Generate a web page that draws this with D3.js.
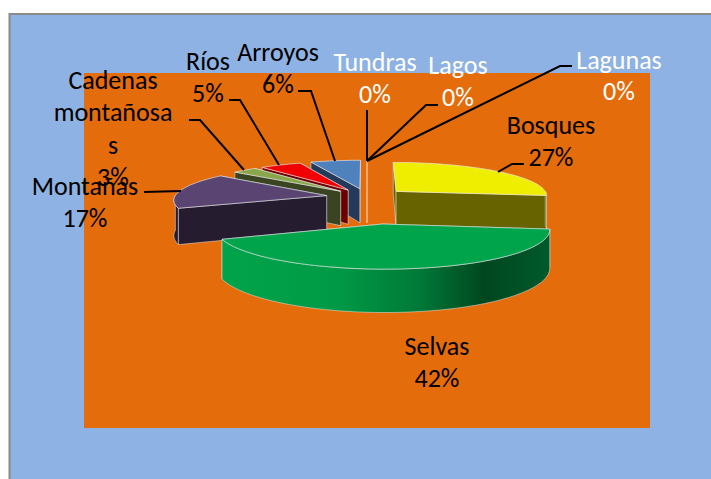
<!DOCTYPE html>
<html><head><meta charset="utf-8">
<script src="https://cdn.jsdelivr.net/npm/d3@7"></script>
<style>html,body{margin:0;padding:0;background:#fff}svg{display:block}text{font-family:Carlito,Lato,"Open Sans",sans-serif}</style>
</head><body><svg id="c" width="711" height="479"></svg>
<script>
// ---- data ----
const categories = ["Bosques","Selvas","Montañas","Cadenas montañosas","Ríos","Arroyos","Tundras","Lagos","Lagunas"];
const values = [27,42,17,3,5,6,0,0,0];
// ---- styles / layout ----
const topColors  = ["#f0ee00","#00a44a","#5a4572","#8aa64a","#f00000","#4f81bd","#f5a66b","#f5a66b","#f5a66b"];
const sideColors = ["#676400","url(#selvasWall)","#251c30","#3a4420","#6d0000","#243a5a","#f5a66b","#f5a66b","#f5a66b"];
const explode    = [.26,.75,.27,.25,.25,.26,.25,.25,.25];
const labelLines = [["Bosques"],["Selvas"],["Montañas"],["Cadenas","montañosa","s"],["Ríos"],["Arroyos"],["Tundras"],["Lagos"],["Lagunas"]];
const labelPos = [[551,134,32],[437,355,32],[85,195,32],[113,89,32.3],[208,70,32],[278,61,32],[375,71,32],[458,74,32],[619,69,31]];
const labelFill = ["#000","#000","#000","#000","#000","#000","#fff","#fff","#fff"];
const leaderPaths = [
 [[524,164],[512,164],[498,172]],
 null,
 [[144,192],[181,191]],
 [[189,120],[200,120],[244,170]],
 [[229,100],[240,100],[279,165]],
 [[298,91],[311,91],[335,161]],
 [[367,110],[367,161]],
 [[438,105],[426,105],[367,161]],
 [[572,66],[560,66],[367,161]]
];
const P = {cx:367, yh:-103, A:300, d:9, Bx:152, h:35};

const svg = d3.select("#c");
const defs = svg.append("defs");
const g = defs.append("linearGradient").attr("id","selvasWall").attr("gradientUnits","userSpaceOnUse")
  .attr("x1",220).attr("x2",550).attr("y1",0).attr("y2",0);
[[0,"#00a44a"],[.35,"#009a46"],[.6,"#007a38"],[.8,"#00471f"],[1,"#005a2c"]]
  .forEach(([o,c])=>g.append("stop").attr("offset",o).attr("stop-color",c));

// panel + plot area
svg.append("rect").attr("x",9.5).attr("y",14).attr("width",710).attr("height",470)
   .attr("fill","#8db2e3").attr("stroke","#8a8a8a").attr("stroke-width",2);
svg.append("rect").attr("x",84).attr("y",73).attr("width",566).attr("height",355).attr("fill","#e46c0a");

// projection of pie-space to the page
function project(X,Z,down){
  const s = 1/(1-Z/P.d);
  return [P.cx + P.Bx*X*s, P.yh + P.A*s + P.h*s*down];
}
const line = d3.line();
const pieGen = d3.pie().sort(null).value(d=>d.v).startAngle(0).endAngle(2*Math.PI);
const arcs = pieGen(values.map((v,i)=>({v,i})));
arcs.forEach(a=>{
  const i=a.data.i, mid=(a.startAngle+a.endAngle)/2, e=explode[i];
  a.ox=e*Math.sin(mid); a.oz=-e*Math.cos(mid);
});
const pt=(a,ang,r,down)=>project(a.ox+r*Math.sin(ang), a.oz-r*Math.cos(ang), down);
const sweep=(a,from,to,down)=>{
  const n=Math.max(1,Math.ceil((to-from)/0.03));
  return d3.range(n+1).map(k=>pt(a,from+(to-from)*k/n,1,down));
};
const EDGE="rgba(235,235,240,.62)";
const order=arcs.slice().sort((p,q)=>p.oz-q.oz);
order.forEach(a=>{
  const i=a.data.i, gs=svg.append("g");
  if(a.value===0){
    // zero-size slice: only its cut plane shows
    gs.append("path").attr("d",line([pt(a,a.startAngle,1,0),pt(a,a.startAngle,0,0),pt(a,a.startAngle,0,1)]))
      .attr("fill","none").attr("stroke",topColors[i]).attr("stroke-width",2);
    return;
  }
  // radial cut faces
  [a.startAngle,a.endAngle].map(ang=>({ang,z:a.oz-.5*Math.cos(ang)})).sort((p,q)=>p.z-q.z).forEach(f=>{
    const q=[pt(a,f.ang,0,0),pt(a,f.ang,1,0),pt(a,f.ang,1,1),pt(a,f.ang,0,1)];
    gs.append("path").attr("d",line(q)+"Z").attr("fill",sideColors[i]==="url(#selvasWall)"?"#00471f":sideColors[i])
      .attr("stroke",EDGE).attr("stroke-width",.8);
  });
  // outer wall, front-facing part only
  const f0=Math.max(a.startAngle,Math.PI/2), f1=Math.min(a.endAngle,3*Math.PI/2);
  if(f1>f0){
    const w=sweep(a,f0,f1,0).concat(sweep(a,f0,f1,1).reverse());
    gs.append("path").attr("d",line(w)+"Z").attr("fill",sideColors[i]).attr("stroke",EDGE).attr("stroke-width",.8);
  }
  // top face
  const t=[pt(a,0,0,0)].concat(sweep(a,a.startAngle,a.endAngle,0));
  gs.append("path").attr("d",line(t)+"Z").attr("fill",topColors[i]).attr("stroke",EDGE).attr("stroke-width",1);
});

// leaders
leaderPaths.forEach(p=>{ if(p) svg.append("path").attr("d",line(p)).attr("fill","none").attr("stroke","#000").attr("stroke-width",2); });

// labels
const total=d3.sum(values);
categories.forEach((c,i)=>{
  const [x,y,dy]=labelPos[i];
  const t=svg.append("text").attr("text-anchor","middle").attr("font-size",26).attr("fill",labelFill[i]);
  labelLines[i].concat([Math.round(values[i]/total*100)+"%"]).forEach((s,k)=>{
    t.append("tspan").attr("x",x).attr("y",y+k*dy).text(s);
  });
});
</script></body></html>
